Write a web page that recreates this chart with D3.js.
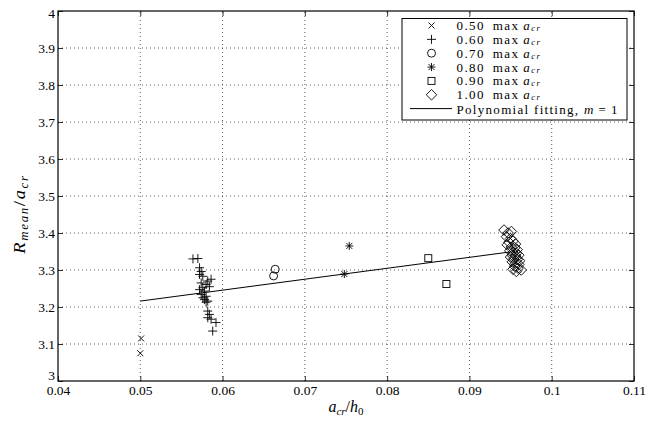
<!DOCTYPE html>
<html><head><meta charset="utf-8">
<script src="https://cdn.jsdelivr.net/npm/d3@7"></script>
<style>body{margin:0;background:#fff}svg{display:block}text{font-family:"Liberation Serif","Times New Roman",serif;fill:#000}</style>
</head><body><svg id="c" width="659" height="422"></svg>
<script>
const xTicks=[0.04,0.05,0.06,0.07,0.08,0.09,0.1,0.11];
const xTickLabels=["0.04","0.05","0.06","0.07","0.08","0.09","0.1","0.11"];
const yTicks=[3,3.1,3.2,3.3,3.4,3.5,3.6,3.7,3.8,3.9,4];
const yTickLabels=["3","3.1","3.2","3.3","3.4","3.5","3.6","3.7","3.8","3.9","4"];
const legendLabels=["0.50","0.60","0.70","0.80","0.90","1.00"];
const s050=[[0.0501,3.115],[0.0500,3.075]];
const s060=[[0.0564,3.330],[0.0570,3.331],[0.0572,3.306],[0.0574,3.296],[0.0572,3.288],[0.0576,3.283],[0.0582,3.270],[0.0580,3.261],[0.0574,3.265],[0.0576,3.252],[0.0572,3.247],[0.0578,3.243],[0.0574,3.234],[0.0580,3.229],[0.0576,3.225],[0.0578,3.220],[0.0582,3.216],[0.0580,3.213],[0.0582,3.189],[0.0584,3.180],[0.0582,3.171],[0.0586,3.167],[0.0592,3.158],[0.0588,3.135],[0.0584,3.255],[0.0586,3.275]];
const s070=[[0.0664,3.302],[0.0662,3.284]];
const s080=[[0.0748,3.289],[0.0754,3.365]];
const s090=[[0.0850,3.332],[0.0872,3.262]];
const s100=[[0.0942,3.408],[0.0947,3.400],[0.0951,3.404],[0.0945,3.390],[0.0950,3.385],[0.0948,3.375],[0.0953,3.378],[0.0956,3.370],[0.0946,3.368],[0.0951,3.362],[0.0955,3.360],[0.0958,3.355],[0.0949,3.352],[0.0953,3.348],[0.0957,3.345],[0.0952,3.340],[0.0956,3.338],[0.0960,3.340],[0.0950,3.335],[0.0954,3.330],[0.0958,3.328],[0.0961,3.325],[0.0952,3.322],[0.0956,3.318],[0.0960,3.315],[0.0955,3.310],[0.0959,3.305],[0.0963,3.300],[0.0953,3.302],[0.0957,3.296]];
const fitLine=[[0.0500,3.216],[0.0950,3.349]];

const L=58,R=634,T=11,B=381;
const x=d3.scaleLinear().domain([0.04,0.11]).range([L,R]);
const y=d3.scaleLinear().domain([3,4]).range([B,T]);
const svg=d3.select("#c");

// grid
const g=svg.append("g").attr("stroke","#333").attr("stroke-width",0.8).attr("stroke-dasharray","1,3");
xTicks.slice(1,-1).forEach(t=>g.append("line").attr("x1",x(t)).attr("x2",x(t)).attr("y1",B).attr("y2",T));
yTicks.slice(1,-1).forEach(t=>g.append("line").attr("y1",y(t)).attr("y2",y(t)).attr("x1",L).attr("x2",R));

// axes
const fs=13.5;
const ax=svg.append("g").attr("transform",`translate(0,${B})`).call(d3.axisBottom(x).tickValues(xTicks).tickFormat((d,i)=>xTickLabels[i]).tickSizeInner(-5).tickSizeOuter(0).tickPadding(3));
const axT=svg.append("g").attr("transform",`translate(0,${T})`).call(d3.axisTop(x).tickValues(xTicks).tickFormat("").tickSizeInner(-5).tickSizeOuter(0));
const ay=svg.append("g").attr("transform",`translate(${L},0)`).call(d3.axisLeft(y).tickValues(yTicks).tickFormat((d,i)=>yTickLabels[i]).tickSizeInner(-5).tickSizeOuter(0).tickPadding(3));
const ayR=svg.append("g").attr("transform",`translate(${R},0)`).call(d3.axisRight(y).tickValues(yTicks).tickFormat("").tickSizeInner(-5).tickSizeOuter(0));
[ax,axT,ay,ayR].forEach(a=>{a.attr("font-family",'"Liberation Serif",serif');a.select(".domain").remove();a.selectAll("line").attr("stroke","#000").attr("stroke-width",0.8);a.selectAll("text").attr("font-size",fs).attr("font-family",'"Liberation Serif",serif').attr("fill","#000");});
ay.selectAll(".tick text").attr("dy",(d,i)=>i===0?"-0.1em":(i===yTicks.length-1?"0.5em":"0.32em"));
ax.selectAll(".tick text").attr("dy","0.8em");

// fit line
svg.append("path").datum(fitLine).attr("d",d3.line().x(d=>x(d[0])).y(d=>y(d[1]))).attr("fill","none").attr("stroke","#000").attr("stroke-width",1);

// markers
function marker(sel,type,cx,cy){
  const gg=sel.append("g").attr("transform",`translate(${cx},${cy})`).attr("fill","none").attr("stroke","#000").attr("stroke-width",0.9);
  if(type===0){gg.append("path").attr("d","M-3,-3L3,3M-3,3L3,-3");}
  else if(type===1){gg.append("path").attr("d","M-4.5,0L4.5,0M0,-4.5L0,4.5");}
  else if(type===2){gg.append("circle").attr("r",4);}
  else if(type===3){gg.append("path").attr("d","M-4,0L4,0M0,-4L0,4M-3,-3L3,3M-3,3L3,-3");}
  else if(type===4){gg.append("rect").attr("x",-3.5).attr("y",-3.5).attr("width",7).attr("height",7);}
  else {gg.append("path").attr("d","M0,-5.3L5.3,0L0,5.3L-5.3,0Z");}
}
const series=[s050,s060,s070,s080,s090,s100];
const mg=svg.append("g");
series.forEach((s,i)=>s.forEach(d=>marker(mg,i,x(d[0]),y(d[1]))));

// box
svg.append("rect").attr("x",L).attr("y",T).attr("width",R-L).attr("height",B-T).attr("fill","none").attr("stroke","#000").attr("stroke-width",1.2);

// axis titles
const xt=svg.append("text").attr("x",(L+R)/2).attr("y",412).attr("text-anchor","middle").attr("font-size",16);
xt.append("tspan").attr("font-style","italic").text("a");
xt.append("tspan").attr("font-style","italic").attr("font-size",11).attr("dy",3).text("cr");
xt.append("tspan").attr("dy",-3).text("/");
xt.append("tspan").attr("font-style","italic").text("h");
xt.append("tspan").attr("font-size",11).attr("dy",3).text("0");

const yt=svg.append("text").attr("transform","translate(25,214) rotate(-90) scale(1.12,1)").attr("text-anchor","middle").attr("font-size",16.5).attr("letter-spacing",1.5);
yt.append("tspan").attr("font-style","italic").text("R");
yt.append("tspan").attr("font-style","italic").attr("font-size",11.5).attr("dy",3).text("mean");
yt.append("tspan").attr("dy",-3).text("/");
yt.append("tspan").attr("font-style","italic").text("a");
yt.append("tspan").attr("font-style","italic").attr("font-size",11.5).attr("dy",3).text("cr");

// legend
const lfs=13;
const lg=svg.append("g");
lg.append("rect").attr("x",402).attr("y",18.5).attr("width",225).attr("height",101.5).attr("fill","#fff").attr("stroke","#000").attr("stroke-width",1);
const rowY=i=>25.5+i*13.85;
legendLabels.forEach((lab,i)=>{
  marker(lg,i,431.5,rowY(i));
  const t=lg.append("text").attr("x",456.5).attr("y",rowY(i)+4.5).attr("font-size",lfs).attr("letter-spacing",1.4);
  t.append("tspan").text(lab+"\u2002max\u2009");
  t.append("tspan").attr("font-style","italic").text("a");
  t.append("tspan").attr("font-style","italic").attr("font-size",8.5).attr("dy",1).text("cr");
});
lg.append("line").attr("x1",410).attr("x2",452).attr("y1",rowY(6)).attr("y2",rowY(6)).attr("stroke","#000").attr("stroke-width",1);
const lt=lg.append("text").attr("x",456.5).attr("y",rowY(6)+5.5).attr("font-size",lfs).attr("letter-spacing",1.3);
lt.append("tspan").text("Polynomial fitting, ");
lt.append("tspan").attr("font-style","italic").text("m");
lt.append("tspan").text("\u2009=\u20091");
</script></body></html>
